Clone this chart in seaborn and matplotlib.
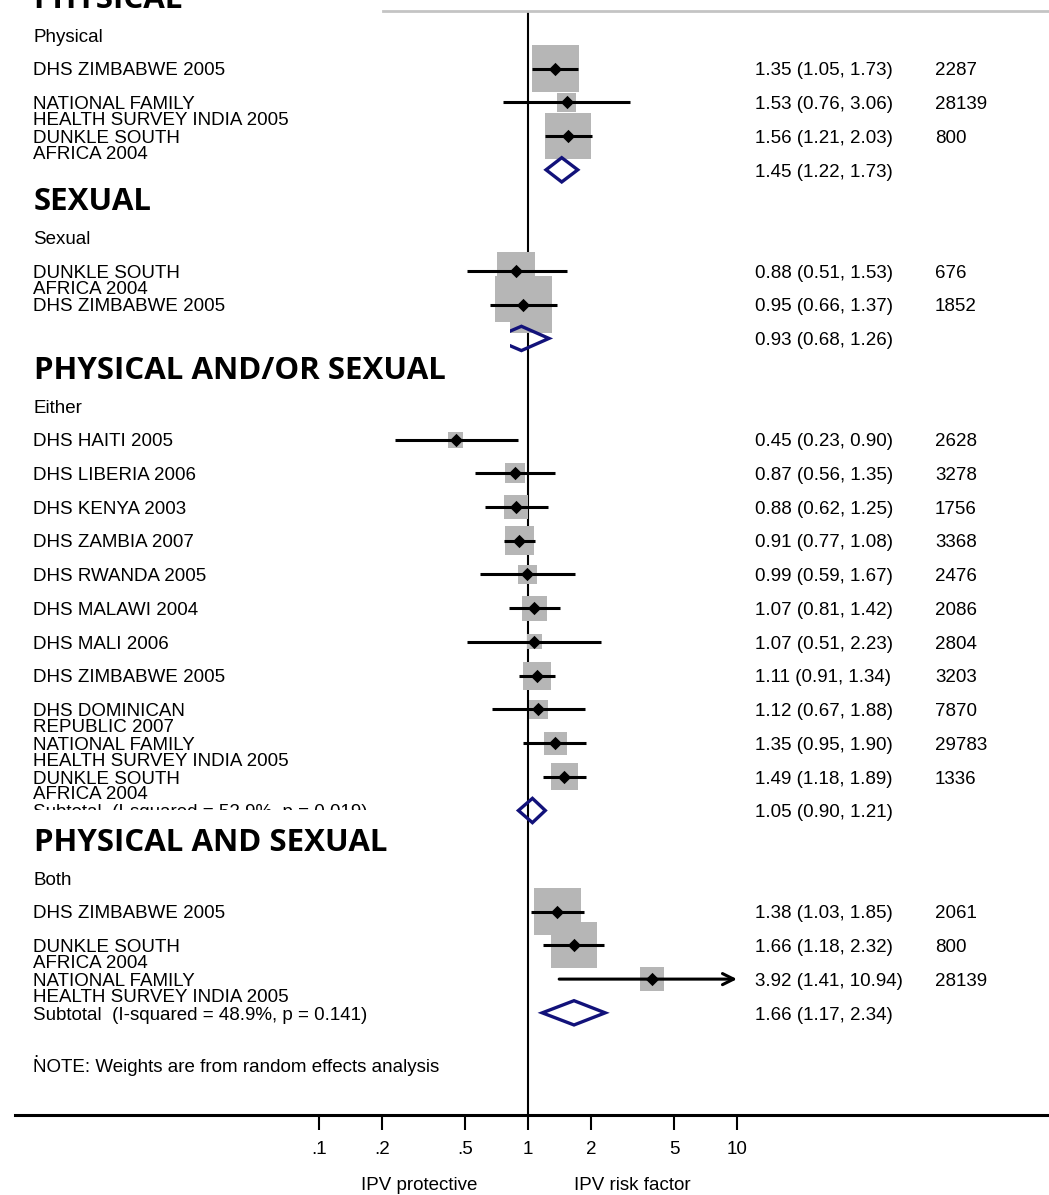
import numpy as np
import matplotlib
matplotlib.use("Agg")
import matplotlib.pyplot as plt
import matplotlib.transforms as mtransforms
import seaborn as sns

# ---- data (odds ratios with 95% CI, sample size, relative box weight) ----
headers = ["PHYSICAL", "SEXUAL", "PHYSICAL AND/OR SEXUAL", "PHYSICAL AND SEXUAL"]
sub_labels = ["Physical", "Sexual", "Either", "Both"]

phys_studies = ["DHS ZIMBABWE 2005", "NATIONAL FAMILY\nHEALTH SURVEY INDIA 2005", "DUNKLE SOUTH\nAFRICA 2004"]
phys_or = [1.35, 1.53, 1.56]
phys_lo = [1.05, 0.76, 1.21]
phys_hi = [1.73, 3.06, 2.03]
phys_n = [2287, 28139, 800]
phys_w = [45.1, 7.4, 43.2]

sex_studies = ["DUNKLE SOUTH\nAFRICA 2004", "DHS ZIMBABWE 2005"]
sex_or = [0.88, 0.95]
sex_lo = [0.51, 0.66]
sex_hi = [1.53, 1.37]
sex_n = [676, 1852]
sex_w = [29.5, 66.3]

either_studies = ["DHS HAITI 2005", "DHS LIBERIA 2006", "DHS KENYA 2003", "DHS ZAMBIA 2007",
                  "DHS RWANDA 2005", "DHS MALAWI 2004", "DHS MALI 2006", "DHS ZIMBABWE 2005",
                  "DHS DOMINICAN\nREPUBLIC 2007", "NATIONAL FAMILY\nHEALTH SURVEY INDIA 2005",
                  "DUNKLE SOUTH\nAFRICA 2004"]
either_or = [0.45, 0.87, 0.88, 0.91, 0.99, 1.07, 1.07, 1.11, 1.12, 1.35, 1.49]
either_lo = [0.23, 0.56, 0.62, 0.77, 0.59, 0.81, 0.51, 0.91, 0.67, 0.95, 1.18]
either_hi = [0.90, 1.35, 1.25, 1.08, 1.67, 1.42, 2.23, 1.34, 1.88, 1.90, 1.89]
either_n = [2628, 3278, 1756, 3368, 2476, 2086, 2804, 3203, 7870, 29783, 1336]
either_w = [5.2, 8.2, 11.8, 17.2, 7.4, 12.8, 4.6, 16.0, 7.4, 10.8, 14.9]

both_studies = ["DHS ZIMBABWE 2005", "DUNKLE SOUTH\nAFRICA 2004", "NATIONAL FAMILY\nHEALTH SURVEY INDIA 2005"]
both_or = [1.38, 1.66, 3.92]
both_lo = [1.03, 1.18, 1.41]
both_hi = [1.85, 2.32, 10.94]
both_n = [2061, 800, 28139]
both_w = [45.1, 43.2, 11.8]

sub_or = [1.45, 0.93, 1.05, 1.66]
sub_lo = [1.22, 0.68, 0.90, 1.17]
sub_hi = [1.73, 1.26, 1.21, 2.34]
sub_text = ["", "", "Subtotal  (I-squared = 52.9%, p = 0.019)", "Subtotal  (I-squared = 48.9%, p = 0.141)"]

xticks = [0.1, 0.2, 0.5, 1, 2, 5, 10]
xtick_labels = [".1", ".2", ".5", "1", "2", "5", "10"]
note = "NOTE: Weights are from random effects analysis"

groups = [
    (phys_studies, phys_or, phys_lo, phys_hi, phys_n, phys_w),
    (sex_studies, sex_or, sex_lo, sex_hi, sex_n, sex_w),
    (either_studies, either_or, either_lo, either_hi, either_n, either_w),
    (both_studies, both_or, both_lo, both_hi, both_n, both_w),
]

# white patches that the section headers sit on (row offsets from the group's first row, x as axes fraction)
covers = [None, (-2.29, -0.28, 0.474), (-2.49, -0.41, 0.479), (-2.02, -0.18, 0.479)]

sns.set_style("white")
plt.rcParams['font.family'] = ['Liberation Sans', 'DejaVu Sans']
plt.rcParams['text.color'] = 'black'
plt.rcParams['xtick.color'] = 'black'
plt.rcParams['axes.edgecolor'] = 'black'
FS = 13.5
NAVY = "#12127a"
GREY = "#b6b6b6"

fig = plt.figure(figsize=(10.49, 11.95), dpi=100)
ax = fig.add_axes([15 / 1049, 80 / 1195, 1034 / 1049, 1104 / 1195])
ax.set_xscale("log")
xmin, xmax = 10 ** -2.4545, 10 ** 2.4928
ax.set_xlim(xmin, xmax)
ax.set_ylim(32.03, -0.71)

lab_tr = mtransforms.blended_transform_factory(fig.transFigure, ax.transData)


def put_label(x, row, text, **kw):
    lines = text.split("\n")
    for i, line in enumerate(lines):
        ax.text(x, row + 0.2 + 0.47 * i, line, transform=lab_tr, va="baseline",
                ha="left", fontsize=FS, color="black", **kw)


ax.axvline(1, color="black", lw=1.5, zorder=1)

row = 0
for g, (names, est, lo, hi, ns, w) in enumerate(groups):
    start = row
    put_label(0.0315, row, sub_labels[g])
    rows = np.arange(row + 1, row + 1 + len(names))

    side_pt = 7 * np.sqrt(np.array(w)) * 0.72
    sns.scatterplot(x=est, y=rows, marker="s", s=side_pt ** 2, color=GREY,
                    linewidth=0, legend=False, ax=ax, zorder=2)

    lo_a, hi_a = np.array(lo), np.array(hi)
    inside = hi_a <= 10
    ax.hlines(rows[inside], lo_a[inside], hi_a[inside], color="black", lw=2.2, zorder=3)
    for r, l in zip(rows[~inside], lo_a[~inside]):
        ax.annotate("", xy=(10, r), xytext=(l, r),
                    arrowprops=dict(arrowstyle="->", lw=2.2, color="black",
                                    shrinkA=0, shrinkB=0, mutation_scale=20), zorder=3)
    sns.scatterplot(x=est, y=rows, marker="D", s=46, color="black",
                    linewidth=0, legend=False, ax=ax, zorder=4)

    for r, name, e, l, h, n in zip(rows, names, est, lo, hi, ns):
        put_label(0.0315, r, name)
        put_label(0.7197, r, f"{e:.2f} ({l:.2f}, {h:.2f})")
        put_label(0.8913, r, str(n))

    srow = rows[-1] + 1
    hd = 0.36
    ax.fill([sub_lo[g], sub_or[g], sub_hi[g], sub_or[g]],
            [srow, srow - hd, srow, srow + hd],
            facecolor="none", edgecolor=NAVY, lw=2.4, zorder=3)
    if sub_text[g]:
        put_label(0.0315, srow, sub_text[g])
    put_label(0.7197, srow, f"{sub_or[g]:.2f} ({sub_lo[g]:.2f}, {sub_hi[g]:.2f})")

    # section header overlay
    if covers[g] is not None:
        c0, c1, cx = covers[g]
        ax.axhspan(start + c0, start + c1, xmin=0, xmax=cx, color="white", lw=0, zorder=5)
    ax.text(0.032, start - 0.8, headers[g], transform=lab_tr, va="baseline", ha="left",
            fontsize=22.5, fontweight="bold", color="black",
            family=["Open Sans", "DejaVu Sans"], zorder=6)

    row = srow + 2

put_label(0.0315, row - 0.9, ".")
put_label(0.0315, row - 0.45, note)

# axes styling
for s in ["left", "right"]:
    ax.spines[s].set_visible(False)
ax.spines["bottom"].set_linewidth(2.2)
ax.spines["bottom"].set_color("black")
ax.spines["top"].set_color("#c4c4c4")
ax.spines["top"].set_linewidth(2)
ax.spines["top"].set_bounds(10 ** ((383 - 528) / 209), xmax)
ax.set_yticks([])
ax.set_xticks(xticks)
ax.set_xticklabels(xtick_labels)
ax.minorticks_off()
ax.tick_params(axis="x", which="major", bottom=True, length=11, width=1.5,
               pad=8, labelsize=FS, color="black", labelcolor="black")
ax.set_xlabel("")
ax.set_ylabel("")

bot_tr = mtransforms.blended_transform_factory(ax.transData, fig.transFigure)
ax.text(0.30, 10 / 1195, "IPV protective", transform=bot_tr, ha="center", va="center", fontsize=FS)
ax.text(3.15, 10 / 1195, "IPV risk factor", transform=bot_tr, ha="center", va="center", fontsize=FS)

fig.savefig("out.png", dpi=100)
